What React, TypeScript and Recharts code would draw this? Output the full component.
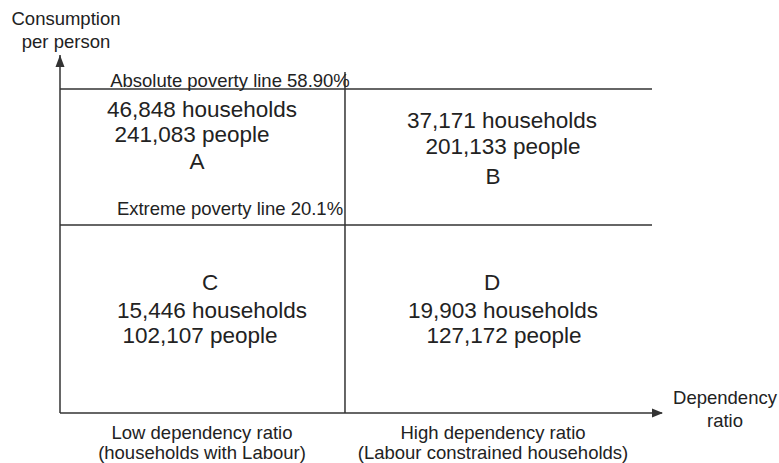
import { ComposedChart, XAxis, YAxis, ReferenceLine, ReferenceDot, Scatter } from 'recharts'

const quadrantLetters = ['A', 'B', 'C', 'D']
const households = [46848, 37171, 15446, 19903]
const people = [241083, 201133, 102107, 127172]
const povertyLines = ['Absolute poverty line 58.90%', 'Extreme poverty line 20.1%']
const columnLabels = [
  ['Low dependency ratio', '(households with Labour)'],
  ['High dependency ratio', '(Labour constrained households)'],
]
const yTitle = ['Consumption', 'per person']
const xTitle = ['Dependency', 'ratio']

// schematic layout, 0-100 on both axes
const splitX = 47.34
const lineLevels = [90.5, 52.51]
const lineEnd = 98.34
const splitTop = 95.25
const columnTicks = [23.59, 71.93]
const labelX = 28.24
const quadrantPos = [
  { x: 23.59, y: 82.82 },
  { x: 73.42, y: 79.53 },
  { x: 25.25, y: 26.45 },
  { x: 73.59, y: 26.45 },
]
// [dx, dy] of households, people, letter lines
const lineOffsets = [
  [[0, 0], [-10, 25.5], [-5, 52.5]],
  [[0, 0], [1, 26], [-9, 56]],
  [[0, 0], [-12, 25], [-2, -28.3]],
  [[0, 0], [1, 25], [-11, -28.3]],
]

const FONT = '"Liberation Sans", Arial, sans-serif'
const INK = '#222'
const LINE = '#333'

const fmt = (n: number) => n.toLocaleString('en-US')

const quadrantData = quadrantLetters.map((letter, i) => ({
  ...quadrantPos[i],
  letter,
  households: households[i],
  people: people[i],
  idx: i,
}))

const QuadrantText = (props: any) => {
  const { cx, cy, payload } = props
  const off = lineOffsets[payload.idx]
  const texts = [`${fmt(payload.households)} households`, `${fmt(payload.people)} people`, payload.letter]
  return (
    <g>
      {texts.map((t, i) => (
        <text key={i} x={cx + off[i][0]} y={cy + off[i][1]} textAnchor="middle" fontSize={22.5} fill={INK} fontFamily={FONT}>
          {t}
        </text>
      ))}
    </g>
  )
}

const ColumnTick = (props: any) => {
  const { x, y, index } = props
  const lines = columnLabels[index] || []
  return (
    <g>
      {lines.map((t, i) => (
        <text key={i} x={x} y={y + 17.5 + i * 20} textAnchor="middle" fontSize={18.5} fill={INK} fontFamily={FONT}>
          {t}
        </text>
      ))}
    </g>
  )
}

const UpArrow = (props: any) => {
  const { cx, cy } = props
  return (
    <g>
      <polygon points={`${cx},${cy} ${cx - 4.5},${cy + 12} ${cx + 4.5},${cy + 12}`} fill={LINE} />
      {yTitle.map((t, i) => (
        <text key={i} x={cx + 6} y={cy - 30 + i * 23} textAnchor="middle" fontSize={18.5} fill={INK} fontFamily={FONT}>
          {t}
        </text>
      ))}
    </g>
  )
}

const RightArrow = (props: any) => {
  const { cx, cy } = props
  return (
    <g>
      <polygon points={`${cx + 1},${cy} ${cx - 10},${cy - 4.5} ${cx - 10},${cy + 4.5}`} fill={LINE} />
      {xTitle.map((t, i) => (
        <text key={i} x={cx + 63} y={cy - 9 + i * 23} textAnchor="middle" fontSize={18.5} fill={INK} fontFamily={FONT}>
          {t}
        </text>
      ))}
    </g>
  )
}

const PovertyLabel = (props: any) => {
  const { cx, cy, payload } = props
  return (
    <text x={cx} y={cy} textAnchor="middle" fontSize={18.5} fill={INK} fontFamily={FONT}>
      {payload.text}
    </text>
  )
}

const povertyData = povertyLines.map((text, i) => ({
  x: labelX,
  y: lineLevels[i] + (i === 0 ? 0.7 : 2.8),
  text,
}))

export default function App() {
  return (
    <div style={{ position: 'absolute', left: 0, top: 0, background: '#fff' }}>
      <ComposedChart width={779} height={463} margin={{ top: 55, right: 117, bottom: 0, left: 0 }}>
        <XAxis
          type="number"
          dataKey="x"
          domain={[0, 100]}
          ticks={columnTicks}
          height={50}
          axisLine={{ stroke: LINE, strokeWidth: 1.5 }}
          tickLine={false}
          tick={<ColumnTick />}
          interval={0}
        />
        <YAxis
          type="number"
          dataKey="y"
          domain={[0, 100]}
          width={60}
          axisLine={{ stroke: LINE, strokeWidth: 1.5 }}
          tickLine={false}
          tick={false}
        />
        {lineLevels.map((lv, i) => (
          <ReferenceLine
            key={i}
            segment={[{ x: 0, y: lv }, { x: lineEnd, y: lv }]}
            stroke={LINE}
            strokeWidth={1.5}
            ifOverflow="visible"
          />
        ))}
        <ReferenceLine
          segment={[{ x: splitX, y: 0 }, { x: splitX, y: splitTop }]}
          stroke={LINE}
          strokeWidth={1.5}
          ifOverflow="visible"
        />
        <Scatter data={quadrantData} shape={<QuadrantText />} isAnimationActive={false} />
        <Scatter data={povertyData} shape={<PovertyLabel />} isAnimationActive={false} />
        <ReferenceDot x={0} y={100} r={0} ifOverflow="visible" shape={<UpArrow />} />
        <ReferenceDot x={100} y={0} r={0} ifOverflow="visible" shape={<RightArrow />} />
      </ComposedChart>
    </div>
  )
}
